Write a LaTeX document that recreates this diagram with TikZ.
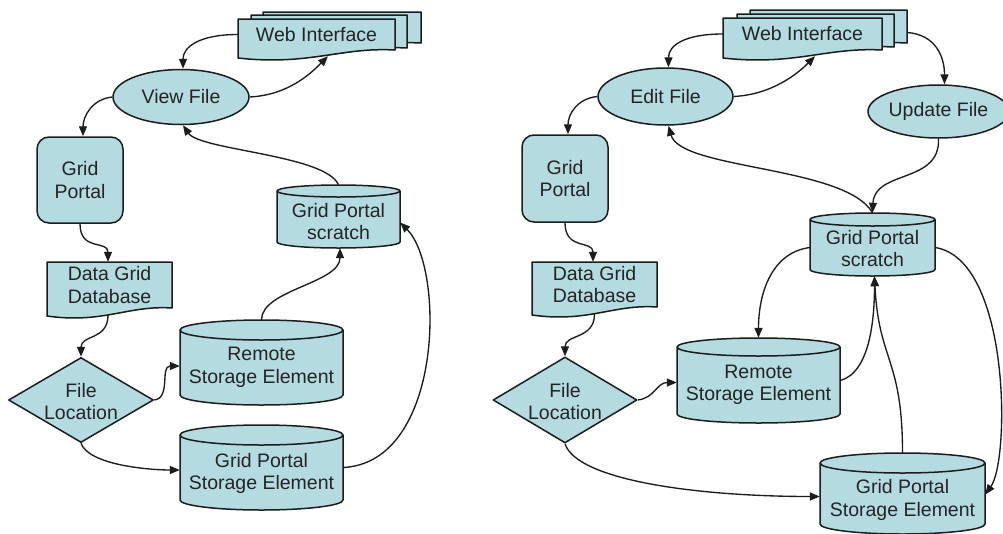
\documentclass[tikz,border=0pt]{standalone}
\usepackage{fontspec}
\setmainfont{Liberation Sans}
\usetikzlibrary{shapes.geometric,arrows.meta}

\definecolor{shapefill}{RGB}{180,219,223}
\definecolor{edge}{RGB}{28,28,28}
\definecolor{label}{RGB}{36,36,36}

\tikzset{
  flowfill/.style={fill=shapefill, draw=edge, line width=1.5pt, line join=round},
  lbl/.style={font=\fontsize{19.5}{22.5}\selectfont, text=label, align=center, inner sep=0pt},
  anchorbox/.style={rectangle, draw=none, fill=none, inner sep=0pt},
  oval/.style={ellipse, flowfill, lbl},
  roundbox/.style={rectangle, rounded corners=12pt, flowfill, lbl},
  decision/.style={diamond, flowfill, inner sep=0pt},
  conn/.style={draw=edge, line width=1.35pt, -{Triangle[length=10pt,width=8pt]}},
}

% document sheet with a wavy lower edge: left, right, top, bottom (right end)
\newcommand\flowdoc[4]{%
  \filldraw[flowfill] (#1,#3) -- (#2,#3) -- (#2,#4)
    .. controls ({#2-0.35*(#2-#1)},{#4-3}) and ({#1+0.45*(#2-#1)},{#4+16}) .. (#1,{#4+8}) -- cycle;}

% storage drum: left, right, top, bottom, half-height of the rims
\newcommand\flowdrum[5]{%
  \pgfmathsetmacro\drumrx{(#2-#1)/2}%
  \filldraw[flowfill] (#1,#3+#5) -- (#1,#4-#5)
    arc[start angle=180,end angle=360,x radius=\drumrx pt,y radius=#5pt]
    -- (#2,#3+#5)
    arc[start angle=0,end angle=180,x radius=\drumrx pt,y radius=#5pt] -- cycle;
  \draw[flowfill, fill=none] (#1,#3+#5)
    arc[start angle=180,end angle=360,x radius=\drumrx pt,y radius=#5pt];}

\begin{document}
\begin{tikzpicture}[x=1pt,y=-1pt]
\useasboundingbox (0,0) rectangle (1003,533);

% ================= viewing =================
\flowdoc{263}{421}{12}{43}
\flowdoc{251}{407}{15}{48}
\flowdoc{238}{395}{19}{50}
\node[lbl, minimum width=157pt, minimum height=31pt] (lweb) at (316.5,34.5) {Web Interface};

\node[oval, minimum width=136pt, minimum height=55pt] (lview) at (181,97) {View File};
\node[roundbox, minimum width=86pt, minimum height=86pt] (lgp) at (80,180) {Grid\\Portal};

\flowdrum{277}{400}{185}{248}{6}
\node[anchorbox, minimum width=123pt, minimum height=63pt] (lscr) at (338.5,216.5) {};
\node[lbl] (lscrt) at (338.5,221.5) {Grid Portal\\scratch};

\flowdoc{47}{172}{262}{308}
\node[lbl, minimum width=125pt, minimum height=46pt] (ldgd) at (109.5,285) {Data Grid\\Database};

\node[decision, minimum width=145pt, minimum height=85pt] (lfl) at (81,400) {};
\node[lbl] (lflt) at (81,401.5) {File\\Location};

\flowdrum{180}{343}{320}{405}{10}
\node[anchorbox, minimum width=163pt, minimum height=85pt] (lrse) at (261.5,362.5) {};
\node[lbl] (lrset) at (261.5,367.5) {Remote\\Storage Element};

\flowdrum{180}{343}{425}{510}{10}
\node[anchorbox, minimum width=163pt, minimum height=85pt] (lgpse) at (261.5,467.5) {};
\node[lbl] (lgpset) at (261.5,473.5) {Grid Portal\\Storage Element};

\draw[conn] (lweb.west) .. controls +(-38,0) and +(0,-22) .. ([xshift=2pt]lview.north);
\draw[conn] (lview.east) .. controls +(38,-2) and +(-18,18) .. ([xshift=11.5pt,yshift=-6pt]lweb.south);
\draw[conn] (lview.west) .. controls +(-20,2) and +(0,-20) .. ([xshift=3pt]lgp.north);
\draw[conn] (lscr.north) .. controls +(-13,-30) and +(17,25) .. ([xshift=2pt]lview.south);
\draw[conn] (lgp.south) .. controls +(0,28) and +(0,-22) .. ([xshift=-1.5pt]ldgd.north);
\draw[conn] ([xshift=-1.5pt,yshift=-7pt]ldgd.south) .. controls +(0,25) and +(0,-22) .. (lfl.north);
\draw[conn] (lfl.east) .. controls +(17,-2) and +(-20,0) .. ([yshift=-3.5pt]lrse.west);
\draw[conn] (lfl.south) .. controls +(8,22) and +(-30,0) .. ([yshift=-2.5pt]lgpse.west);
\draw[conn] (lrse.north) .. controls +(0,-30) and +(0,35) .. ([xshift=1.5pt]lscr.south);
\draw[conn] (lgpse.east) .. controls +(100,-5) and +(45,45) .. ([yshift=-6pt]lscr.east);

% ================= editing =================
\flowdoc{750}{907}{10}{43}
\node[anchorbox, minimum width=157pt, minimum height=33pt] (rwebback) at (828.5,26.5) {};
\flowdoc{737}{894}{14}{47}
\flowdoc{723}{882}{18}{50}
\node[lbl, minimum width=159pt, minimum height=32pt] (rweb) at (802.5,34) {Web Interface};

\node[oval, minimum width=135pt, minimum height=57pt] (redit) at (665.5,96.5) {Edit File};
\node[oval, minimum width=127pt, minimum height=53pt] (rupd) at (938.5,111.5) {Update File};
\node[roundbox, minimum width=86pt, minimum height=87pt] (rgp) at (565,178.5) {Grid\\Portal};

\flowdrum{810}{935}{213}{276}{6.5}
\node[anchorbox, minimum width=125pt, minimum height=63pt] (rscr) at (872.5,244.5) {};
\node[lbl] (rscrt) at (872.5,248.5) {Grid Portal\\scratch};

\flowdoc{532}{657}{262}{307}
\node[lbl, minimum width=125pt, minimum height=45pt] (rdgd) at (594.5,284.5) {Data Grid\\Database};

\node[decision, minimum width=144pt, minimum height=86pt] (rfl) at (565,400) {};
\node[lbl] (rflt) at (565,401.5) {File\\Location};

\flowdrum{677}{840}{338}{423}{9}
\node[anchorbox, minimum width=163pt, minimum height=85pt] (rrse) at (758.5,380.5) {};
\node[lbl] (rrset) at (758.5,385) {Remote\\Storage Element};

\flowdrum{820}{985}{453}{534}{10}
\node[anchorbox, minimum width=165pt, minimum height=81pt] (rgpse) at (902.5,493.5) {};
\node[lbl] (rgpset) at (902.5,500) {Grid Portal\\Storage Element};

\draw[conn] (rweb.west) .. controls +(-38,0) and +(0,-22) .. ([xshift=3pt]redit.north);
\draw[conn] (redit.east) .. controls +(38,-2) and +(-18,18) .. ([xshift=12.5pt,yshift=-6pt]rweb.south);
\draw[conn] ([yshift=-6pt]rwebback.east) .. controls +(28,2) and +(0,-28) .. ([xshift=6pt]rupd.north);
\draw[conn] (redit.west) .. controls +(-20,2) and +(0,-20) .. ([xshift=3pt]rgp.north);
\draw[conn] (rscr.north) .. controls +(-27,-47) and +(12,44) .. ([xshift=3pt]redit.south);
\draw[conn] (rupd.south) .. controls +(2,45) and +(2,-43) .. (rscr.north);
\draw[conn] (rgp.south) .. controls +(0,28) and +(0,-22) .. ([xshift=-1.5pt]rdgd.north);
\draw[conn] ([yshift=-7pt]rdgd.south) .. controls +(0,25) and +(0,-22) .. (rfl.north);
\draw[conn] (rfl.east) .. controls +(17,-2) and +(-20,0) .. ([yshift=-2pt]rrse.west);
\draw[conn] (rfl.south) .. controls +(12,37) and +(-120,0) .. ([yshift=-3pt]rgpse.west);
\draw[conn] ([yshift=-3pt]rscr.west) .. controls +(-38,5) and +(0,-45) .. (rrse.north);
\draw[conn] (rrse.east) .. controls +(30,-8) and +(0,42) .. ([xshift=2pt]rscr.south);
\draw[conn] (rgpse.north) .. controls +(0,-95) and +(4,85) .. ([xshift=2pt]rscr.south);
\draw[conn] ([yshift=-3pt]rscr.east) .. controls +(75,12) and +(25,-35) .. ([yshift=-1pt]rgpse.east);
\end{tikzpicture}
\end{document}
